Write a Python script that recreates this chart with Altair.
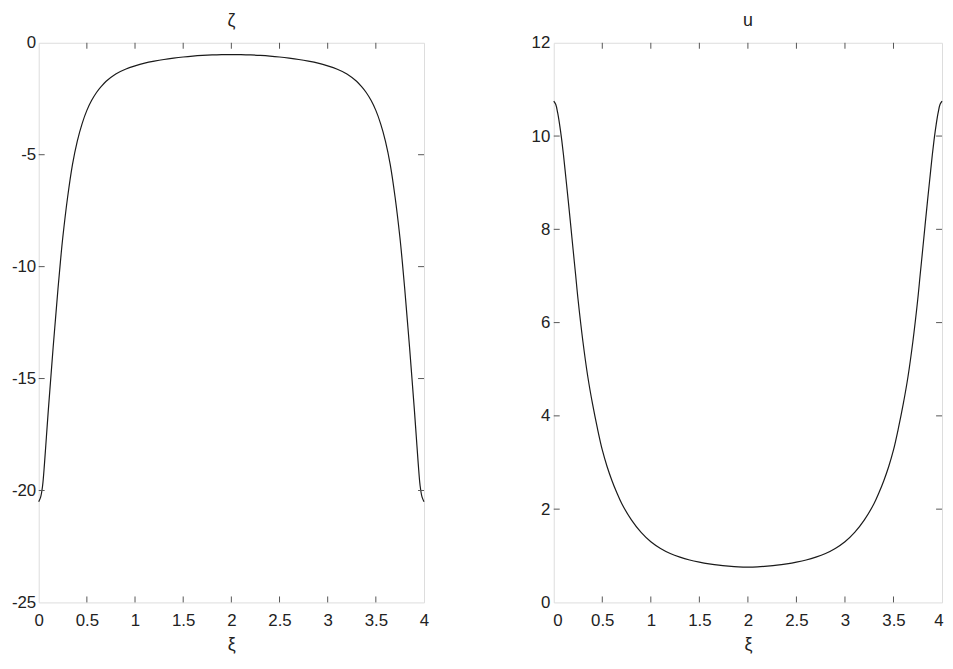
import altair as alt
import pandas as pd

# ---- data ----
xi = [0, 0.02, 0.04, 0.06, 0.08, 0.1, 0.125, 0.15, 0.175, 0.2, 0.225, 0.25, 0.3, 0.35,
      0.4, 0.45, 0.5, 0.55, 0.6, 0.65, 0.7, 0.8, 0.9, 1.0, 1.1, 1.2, 1.3, 1.4, 1.5, 1.6,
      1.7, 1.8, 1.9, 2.0,
      2.1, 2.2, 2.3, 2.4, 2.5, 2.6, 2.7, 2.8, 2.9, 3.0, 3.1, 3.2, 3.3, 3.35, 3.4, 3.45,
      3.5, 3.55, 3.6, 3.65, 3.7, 3.75, 3.775, 3.8, 3.825, 3.85, 3.875, 3.9, 3.92, 3.94,
      3.96, 3.98, 4.0]
zeta = [-20.5, -20.3, -19.8, -18.8, -17.6, -16.4, -15.0, -13.6, -12.3, -11.0, -9.8, -8.7,
        -6.9, -5.45, -4.4, -3.62, -3.02, -2.57, -2.22, -1.95, -1.72, -1.39, -1.18, -1.03,
        -0.91, -0.82, -0.745, -0.685, -0.635, -0.595, -0.565, -0.543, -0.53, -0.525,
        -0.53, -0.543, -0.565, -0.595, -0.635, -0.685, -0.745, -0.82, -0.91, -1.03, -1.18,
        -1.39, -1.72, -1.95, -2.22, -2.57, -3.02, -3.62, -4.4, -5.45, -6.9, -8.7, -9.8,
        -11.0, -12.3, -13.6, -15.0, -16.4, -17.6, -18.8, -19.8, -20.3, -20.5]
u = [10.75, 10.68, 10.5, 10.25, 9.95, 9.6, 9.1, 8.6, 8.08, 7.55, 7.03, 6.5, 5.6, 4.85,
     4.25, 3.73, 3.27, 2.91, 2.61, 2.35, 2.12, 1.77, 1.5, 1.30, 1.156, 1.048, 0.97, 0.91,
     0.865, 0.828, 0.798, 0.778, 0.763, 0.758,
     0.763, 0.778, 0.798, 0.828, 0.865, 0.91, 0.97, 1.048, 1.156, 1.30, 1.5, 1.77, 2.12,
     2.35, 2.61, 2.91, 3.27, 3.73, 4.25, 4.85, 5.6, 6.5, 7.03, 7.55, 8.08, 8.6, 9.1, 9.6,
     9.95, 10.25, 10.5, 10.68, 10.75]

x_ticks = [0, 0.5, 1, 1.5, 2, 2.5, 3, 3.5, 4]
zeta_ticks = [-25, -20, -15, -10, -5, 0]
u_ticks = [0, 2, 4, 6, 8, 10, 12]

H = 565
FONT = "Liberation Sans"
TXT = "#222222"
FRAME = "#555555"
LFS = 17
HYPHEN = "replace(datum.label, '\u2212', '-')"

df = pd.DataFrame({"xi": xi, "zeta": zeta, "u": u})


def panel(col, title, ydom, yticks, W, ypad, yext, flush):
    xs = alt.Scale(domain=[0, 4], nice=False, zero=False)
    ys = alt.Scale(domain=ydom, nice=False, zero=False)
    xax = alt.Axis(values=x_ticks, format="~g", title="ξ", ticks=False, tickSize=0, domain=False,
                   grid=False, labelPadding=10, labelFontSize=LFS, labelFont=FONT,
                   labelColor=TXT, titleFont=FONT, titleFontSize=18,
                   titleFontWeight="normal", titleColor=TXT, titlePadding=7,
                   minExtent=27, maxExtent=27,
                   labelFlush=flush, labelFlushOffset=1)
    yax = alt.Axis(values=yticks, format="~g", labelExpr=HYPHEN, title=None, ticks=False,
                   tickSize=0, domain=False, grid=False, labelPadding=ypad, labelFontSize=LFS,
                   labelFont=FONT, labelColor=TXT, labelFlush=False,
                   minExtent=yext, maxExtent=yext)
    line = alt.Chart(df).mark_line(color="#1a1a1a", strokeWidth=1.2,
                                   interpolate="catmull-rom").encode(
        x=alt.X("xi:Q", scale=xs, axis=xax),
        y=alt.Y(f"{col}:Q", scale=ys, axis=yax),
    )
    xt = pd.DataFrame({"t": x_ticks[1:-1]})
    yt = pd.DataFrame({"t": yticks[1:-1]})
    rule = dict(color=FRAME, strokeWidth=1)
    bottom = alt.Chart(xt).mark_rule(**rule).encode(
        x=alt.X("t:Q", scale=xs, axis=xax), y=alt.value(H), y2=alt.value(H - 6))
    top = alt.Chart(xt).mark_rule(**rule).encode(
        x=alt.X("t:Q", scale=xs, axis=xax), y=alt.value(0), y2=alt.value(6))
    left = alt.Chart(yt).mark_rule(**rule).encode(
        y=alt.Y("t:Q", scale=ys, axis=yax), x=alt.value(0), x2=alt.value(6))
    right = alt.Chart(yt).mark_rule(**rule).encode(
        y=alt.Y("t:Q", scale=ys, axis=yax), x=alt.value(W), x2=alt.value(W - 6))
    return alt.layer(line, bottom, top, left, right).properties(
        width=W, height=H,
        title=alt.TitleParams(title, font=FONT, fontSize=18, fontWeight="normal",
                              color=TXT, anchor="middle", offset=4, frame="group"),
    )


chart = alt.hconcat(
    panel("zeta", "ζ", [-25, 0], zeta_ticks, 389, 3, 30, False),
    panel("u", "u", [0, 12], u_ticks, 392, 4, 30, True),
    spacing=94,
).properties(padding={"left": 0, "top": 0, "right": 0, "bottom": 0}).configure_view(
    stroke=FRAME, strokeWidth=1.2
).configure(background="white")

chart.save("out.html", embed_options={"renderer": "svg", "actions": False})
